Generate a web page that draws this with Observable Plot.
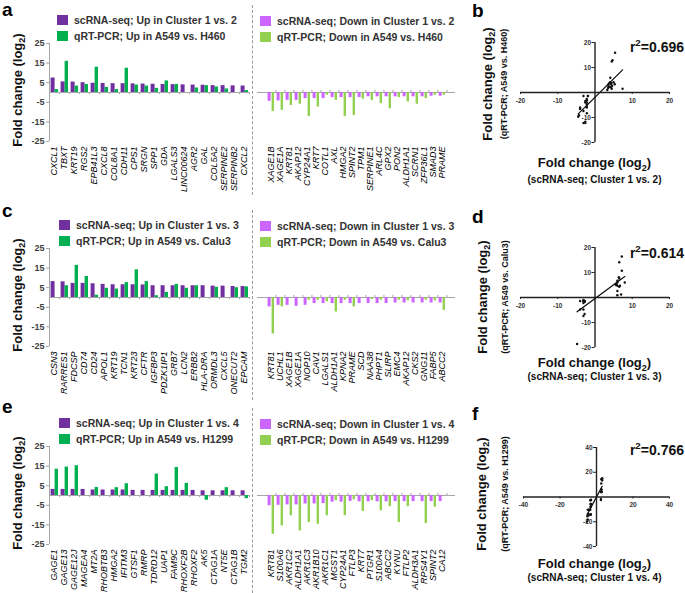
<!DOCTYPE html>
<html><head><meta charset="utf-8">
<script src="https://cdn.jsdelivr.net/npm/d3@7"></script>
<script src="https://cdn.jsdelivr.net/npm/@observablehq/plot@0.6"></script>
<style>
body{margin:0;background:#fff;font-family:"Liberation Sans",Arial,sans-serif;}
#fig{position:relative;width:685px;height:593px;overflow:hidden;background:#fff;}
#fig svg{position:absolute;}
.t{position:absolute;white-space:nowrap;line-height:normal;font-weight:bold;}
.lt{position:absolute;white-space:nowrap;line-height:0.8;font-weight:bold;}
.leg{position:absolute;display:flex;align-items:center;height:10px;font-weight:bold;font-size:10.5px;color:#333;white-space:nowrap;}
.leg i{display:inline-block;width:11px;height:10px;margin-right:6px;}
.rot{position:absolute;transform:translate(-50%,-50%) rotate(-90deg);white-space:nowrap;font-weight:bold;line-height:1.1;text-align:center;}
.dash{position:absolute;border-left:1px dashed #9a9a9a;width:0;}
sub{font-size:70%;}
sup{font-size:70%;}
</style></head>
<body><div id="fig"></div>
<script>
// ---------- data ----------
const aUpGenes = ["CXCL1","TBXT","KRT19","RGS2","EPB41L3","CXCL8","COL8A1","CDH11","CPS1","SRGN","SPP1","GDA","LGALS3","LINC00624","AGR2","GAL","COL5A2","SERPINE2","SERPINB2","CXCL2"];
const aUpSc = [7.4,5.4,5.3,5.0,4.7,4.6,4.5,4.5,4.4,4.3,4.2,4.1,4.0,3.9,3.8,3.7,3.5,3.5,3.4,3.3];
const aUpQ = [1.5,15.9,3.3,4.1,12.9,2.6,1.5,12.4,3.8,3.3,2.1,5.9,4.1,null,2.3,3.5,2.8,1.8,null,1.0];
const aDownGenes = ["XAGE1B","XAGE1A","KRT81","AKAP12","CYP24A1","KRT7","COTL1","AXL","HMGA2","SPINT2","TPM1","SERPINE1","ARL4C","GPX2","PON2","ALDH1A1","SCRN1","ZFP36L1","SMAD3","PRAME"];
const aDownSc = [-4.5,-4.3,-4.0,-4.0,-3.1,-3.1,-3.1,-2.6,-2.6,-2.6,-2.6,-2.2,-2.2,-2.2,-2.2,-2.2,-2.2,-2.2,-1.9,-1.9];
const aDownQ = [-9.7,-9.1,-6.6,-6.0,-12.2,-7.4,-1.4,-4.0,-12.2,-11.7,-3.4,-4.0,-5.7,-8.3,-2.6,-4.8,-6.0,-3.1,-1.4,-1.4];

const cUpGenes = ["CSN3","RARRES1","FDCSP","CD74","CD24","APOL1","KRT19","TCN1","KRT23","CFTR","IGFBP3","PDZK1IP1","GRB7","LCN2","ERBB2","HLA-DRA","ORMDL3","CXCL5","ONECUT2","EPCAM"];
const cUpSc = [8.1,8.0,7.2,7.2,7.0,6.7,6.5,6.5,6.5,6.4,6.0,6.0,6.0,6.0,6.0,6.0,5.8,5.8,5.6,5.6];
const cUpQ = [null,6.0,16.4,10.7,1.2,4.7,4.3,7.6,14.1,8.1,0.9,2.6,6.7,4.7,6.0,null,5.2,null,5.0,5.4];
const cDownGenes = ["KRT81","UCHL1","XAGE1B","XAGE1A","NOP10","CAV1","LGALS1","ALDH1A1","KPNA2","PRAME","SCD","NAA38","PHPT1","SLIRP","EMC4","AKAP12","CKS2","GNG11","FABP5","ABCC2"];
const cDownSc = [-4.8,-4.0,-4.0,-4.5,-4.0,-3.1,-3.1,-3.1,-3.1,-3.1,-3.1,-3.1,-3.1,-3.1,-2.8,-2.8,-2.8,-2.8,-2.8,-2.8];
const cDownQ = [-18.6,-4.8,null,null,-1.4,-1.4,-2.2,-7.4,-1.4,-4.8,null,-1.0,-1.4,null,-1.4,-1.7,null,-1.4,-1.7,-6.6];

const eUpGenes = ["GAGE1","GAGE13","GAGE12J","MAGEA4","MT2A","RHOBTB3","HMGA2","IFITM3","GTSF1","RMRP","TDRD12","UAP1","FAM9C","RHOXF2B","RHOXF2","AK5","CTAG1A","NT5E","CTAG1B","TGM2"];
const eUpSc = [3.1,3.1,3.1,3.1,2.8,2.8,2.8,2.8,2.6,2.6,2.6,2.6,2.6,2.6,2.6,2.4,2.4,2.4,2.4,2.4];
const eUpQ = [13.4,14.5,15.2,null,4.1,null,4.0,6.0,null,null,10.9,4.5,14.3,6.2,null,-2.4,null,4.0,null,-1.6];
const eDownGenes = ["KRT81","S100A6","AKR1C2","ALDH1A1","AKR1C3","AKR1B10","AKR1C1","MGST1","CYP24A1","FTLP3","KRT7","PTGR1","S100A4","ABCC2","KYNU","FTLP2","ALDH3A1","RPS4Y1","SPINT2","CA12"];
const eDownSc = [-5.2,-5.0,-4.8,-4.8,-4.3,-4.3,-4.1,-3.4,-3.4,-3.0,-3.2,-3.2,-3.2,-3.2,-3.1,-3.1,-3.1,-3.1,-3.1,-3.1];
const eDownQ = [-19.8,-15.5,-10.3,-18.1,-13.8,-14.7,-10.3,-2.6,-10.3,-2.2,-8.1,-2.6,-7.8,-5.7,-13.8,-5.7,null,-14.3,-6.0,null];

const yTicksBar = [25,15,5,-5,-15,-25];
const scatTicks20 = [-20,-10,10,20];
const scatTicks40 = [-40,-20,20,40];
const r2Values = ["0.696","0.614","0.766"];
const upLegend = [["scRNA-seq; Up in Cluster 1 vs. 2","qRT-PCR; Up in A549 vs. H460"],["scRNA-seq; Up in Cluster 1 vs. 3","qRT-PCR; Up in A549 vs. Calu3"],["scRNA-seq; Up in Cluster 1 vs. 4","qRT-PCR; Up in A549 vs. H1299"]];
const downLegend = [["scRNA-seq; Down in Cluster 1 vs. 2","qRT-PCR; Down in A549 vs. H460"],["scRNA-seq; Down in Cluster 1 vs. 3","qRT-PCR; Down in A549 vs. Calu3"],["scRNA-seq; Down in Cluster 1 vs. 4","qRT-PCR; Down in A549 vs. H1299"]];
const scatterSub = ["(qRT-PCR; A549 vs. H460)","(qRT-PCR; A549 vs. Calu3)","(qRT-PCR; A549 vs. H1299)"];
const scatterXSub = ["(scRNA-seq; Cluster 1 vs. 2)","(scRNA-seq; Cluster 1 vs. 3)","(scRNA-seq; Cluster 1 vs. 4)"];

// ---------- colors ----------
const C_UP_SC = "#7030A0", C_UP_Q = "#00B050", C_DN_SC = "#CC66FF", C_DN_Q = "#92D050";
const AXG = "#a6a6a6";
const FONT = "'Liberation Sans', Arial, sans-serif";
const fig = document.getElementById("fig");

function place(node, left, top) { node.style.left = left + "px"; node.style.top = top + "px"; fig.appendChild(node); }
function rows(genes, sc, q) { return genes.map((g, i) => ({gene: g, sc: sc[i], q: q[i]})); }

function barPanel({genes, sc, q, left, top, width, height, mL, mR, up, yAxis}) {
  const data = rows(genes, sc, q);
  const step = (width - mL - mR) / genes.length;
  const marks = [
    Plot.ruleY([0], {stroke: AXG, strokeWidth: 1}),
    Plot.ruleX(genes, {x: d => d, dx: step / 2, y1: 0, y2: up ? -1.1 : 1.1, stroke: AXG}),
    Plot.barY(data, {x: "gene", y: "sc", fill: up ? C_UP_SC : C_DN_SC, insetLeft: 1.6, insetRight: 4.4}),
    Plot.barY(data.filter(d => d.q != null), {x: "gene", y: "q", fill: up ? C_UP_Q : C_DN_Q, insetLeft: 5.6, insetRight: 1.0}),
    Plot.axisX({tickRotate: -90, tickSize: 0, tickPadding: 5, fontStyle: "italic", fontSize: 9, fill: "#000", label: null})
  ];
  if (yAxis) {
    marks.push(Plot.ruleX([genes[0]], {x: d => d, dx: -step / 2, y1: -25, y2: 25, stroke: AXG}));
    marks.push(Plot.axisY({ticks: yTicksBar, tickFormat: d => String(d), tickSize: 3, tickPadding: 2, stroke: AXG, fill: "#404040", fontWeight: "bold", fontSize: 9, label: null}));
  }
  const svg = Plot.plot({
    width, height, marginLeft: mL, marginRight: mR, marginTop: 43, marginBottom: height - 141,
    x: {domain: genes, padding: 0},
    y: {domain: [-25, 25], axis: yAxis ? undefined : null},
    style: {background: "transparent", overflow: "visible", fontFamily: FONT},
    marks
  });
  place(svg, left, top);
}

function scatterPanel({genes1, sc1, q1, genes2, sc2, q2, left, top, lim, ticks, mL, mT, yH, xW}) {
  const pts = rows(genes1, sc1, q1).concat(rows(genes2, sc2, q2)).filter(d => d.q != null);
  const width = 215, height = 165;
  const tl = lim / 20 * 0.8; // tick length in data units
  const svg = Plot.plot({
    width, height, marginLeft: mL, marginRight: width - mL - xW, marginTop: mT, marginBottom: height - mT - yH,
    x: {domain: [-lim, lim], axis: null},
    y: {domain: [-lim, lim], axis: null},
    style: {background: "transparent", overflow: "visible", fontFamily: FONT},
    marks: [
      Plot.ruleY([0], {stroke: "#222", strokeWidth: 1.4}),
      Plot.ruleX([0], {stroke: "#222", strokeWidth: 1.4}),
      Plot.ruleX(ticks, {x: d => d, y1: 0, y2: -tl, stroke: "#222"}),
      Plot.ruleY(ticks, {y: d => d, x1: 0, x2: -tl, stroke: "#222"}),
      Plot.text(ticks, {x: d => d, y: 0, dy: 8, text: d => String(d), fontSize: 6.5, fontWeight: "bold", fill: "#333"}),
      Plot.text(ticks, {x: 0, y: d => d, dx: -4, textAnchor: "end", text: d => String(d), fontSize: 6.5, fontWeight: "bold", fill: "#333"}),
      Plot.linearRegressionY(pts, {x: "sc", y: "q", stroke: "#111", strokeWidth: 1.3, ci: 0}),
      Plot.dot(pts, {x: "sc", y: "q", r: 1.2, fill: "#111", stroke: null})
    ]
  });
  place(svg, left, top);
}

function text(html, left, baseline, fs, opts = {}) {
  const d = document.createElement("div");
  d.className = "t";
  d.innerHTML = html;
  d.style.fontSize = fs + "px";
  d.style.color = opts.color || "#111";
  let top = baseline - 0.92 * fs;
  if (opts.align === "right") { d.style.right = (685 - left) + "px"; d.style.top = top + "px"; fig.appendChild(d); return; }
  if (opts.align === "center") { d.style.transform = "translateX(-50%)"; }
  place(d, left, top);
}
function letter(ch, left, baseline) {
  const fs = 19, d = document.createElement("div");
  d.className = "lt"; d.textContent = ch; d.style.fontSize = fs + "px"; d.style.color = "#000";
  // line-height 0.8: baseline sits about 0.75em below the box top
  place(d, left, Math.max(0, baseline - 0.75 * fs));
}
function rotText(html, cx, cy, fs, color) {
  const d = document.createElement("div");
  d.className = "rot"; d.innerHTML = html; d.style.fontSize = fs + "px"; d.style.color = color || "#111";
  place(d, cx, cy);
}
function legend(labels, colors, left, c1, c2) {
  [c1, c2].forEach((cy, i) => {
    const d = document.createElement("div");
    d.className = "leg";
    d.innerHTML = `<i style="background:${colors[i]}"></i>${labels[i]}`;
    place(d, left, cy - 5);
  });
}
function dash(x, y1, y2) {
  const d = document.createElement("div"); d.className = "dash"; d.style.height = (y2 - y1) + "px"; place(d, x, y1);
}

// ---------- layout ----------
const offs = [0, 205, 403];
const heights = [200, 195, 190];
const sets = [
  [aUpGenes, aUpSc, aUpQ, aDownGenes, aDownSc, aDownQ],
  [cUpGenes, cUpSc, cUpQ, cDownGenes, cDownSc, cDownQ],
  [eUpGenes, eUpSc, eUpQ, eDownGenes, eDownSc, eDownQ]
];
const letters = [["a","b"],["c","d"],["e","f"]];
const letterBase = [[16, 17], [217.5, 223], [413.5, 420]];
const FC = "Fold change (log<sub>2</sub>)";

sets.forEach((s, k) => {
  const o = offs[k];
  dash(252, o + 5, Math.min(o + 195, 593));
  barPanel({genes: s[0], sc: s[1], q: s[2], left: 0, top: o, width: 252, height: heights[k], mL: 49, mR: 3, up: true, yAxis: true});
  barPanel({genes: s[3], sc: s[4], q: s[5], left: 252, top: o, width: 205, height: heights[k], mL: 5, mR: 2, up: false, yAxis: false});
  legend(upLegend[k], [C_UP_SC, C_UP_Q], 57 + (k ? 2 : 0), o + 20, o + 36);
  legend(downLegend[k], [C_DN_SC, C_DN_Q], 260, o + 21, o + 37);
  rotText(FC, 19, o + 90, 13);
  letter(letters[k][0], 2, letterBase[k][0]);
  letter(letters[k][1], 472, letterBase[k][1]);
});

scatterPanel({genes1: aUpGenes, sc1: aUpSc, q1: aUpQ, genes2: aDownGenes, sc2: aDownSc, q2: aDownQ, left: 470, top: 0, lim: 20, ticks: scatTicks20, mL: 50, mT: 42, yH: 100, xW: 149});
scatterPanel({genes1: cUpGenes, sc1: cUpSc, q1: cUpQ, genes2: cDownGenes, sc2: cDownSc, q2: cDownQ, left: 470, top: 205, lim: 20, ticks: scatTicks20, mL: 50, mT: 42, yH: 100, xW: 149});
scatterPanel({genes1: eUpGenes, sc1: eUpSc, q1: eUpQ, genes2: eDownGenes, sc2: eDownSc, q2: eDownQ, left: 470, top: 403, lim: 40, ticks: scatTicks40, mL: 53, mT: 44, yH: 99, xW: 146});

const scY = [84, 297, 494], scT = [489, 484, 483], scS = [504.5, 506, 506];
const xtB = [166.5, 366.5, 567.5], xsB = [183, 380, 581];
const r2B = [50, 256, 453];
for (let k = 0; k < 3; k++) {
  rotText(FC, scT[k], scY[k], 13);
  rotText(scatterSub[k], scS[k], scY[k], 9);
  text(FC, 594.5, xtB[k], 13, {align: "center"});
  text(scatterXSub[k], 594.5, xsB[k], 10, {align: "center"});
  text(`r<sup>2</sup>=${r2Values[k]}`, 684, r2B[k], 14, {align: "right"});
}
</script>
</body></html>
